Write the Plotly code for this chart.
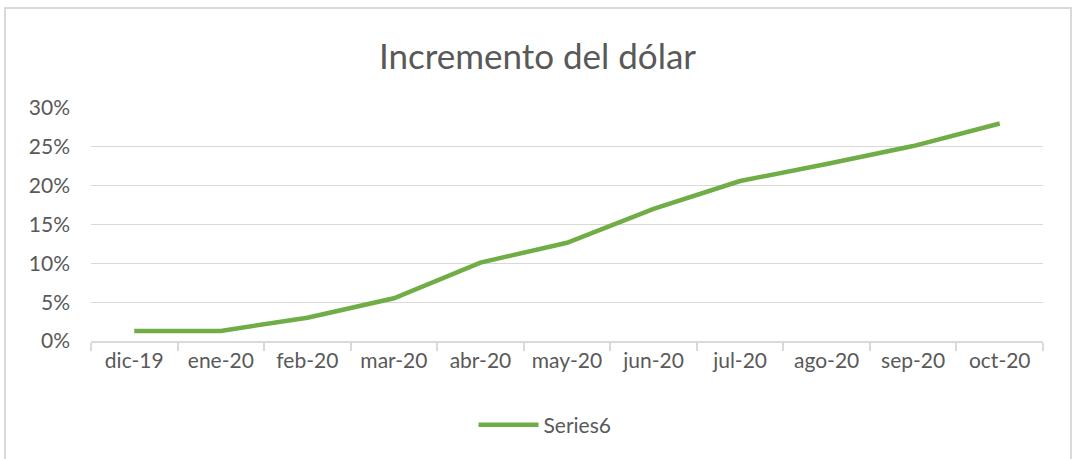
import plotly.graph_objects as go

meses = ["dic-19", "ene-20", "feb-20", "mar-20", "abr-20", "may-20",
         "jun-20", "jul-20", "ago-20", "sep-20", "oct-20"]
incremento = [0.013, 0.013, 0.030, 0.055, 0.101, 0.1265,
              0.170, 0.206, 0.228, 0.251, 0.280]
y_ticks = [0, 0.05, 0.10, 0.15, 0.20, 0.25, 0.30]
y_tick_labels = ["0%", "5%", "10%", "15%", "20%", "25%", "30%"]

W, H = 1075, 459
L, R, T, B = 91, 32, 108, 118
pw, ph = W - L - R, H - T - B

gris = "#595959"
fuente = "Lato, 'Open Sans', sans-serif"

fig = go.Figure()

fig.add_trace(go.Scatter(
    x=meses, y=incremento,
    mode="lines",
    name="Series6",
    line=dict(color="#70AD47", width=4.5),
))

fig.update_layout(
    width=W, height=H,
    margin=dict(l=L, r=R, t=T, b=B),
    paper_bgcolor="white",
    plot_bgcolor="white",
    title=dict(
        text="Incremento del dólar",
        x=0.5, xanchor="center",
        y=1 - 57 / H, yanchor="middle",
        font=dict(family=fuente, size=35, color=gris),
    ),
    font=dict(family=fuente, color=gris, size=20),
    showlegend=True,
    legend=dict(
        orientation="h",
        x=0.5 - 22 / pw, xanchor="center",
        y=-(425 - 341) / ph, yanchor="middle",
        font=dict(size=21, color=gris),
        itemwidth=60,
    ),
    xaxis=dict(
        type="category",
        showgrid=False,
        showline=True, linecolor="#d9d9d9", linewidth=1.5,
        ticks="outside", tickson="boundaries",
        ticklen=8, tickcolor="#d9d9d9", tickwidth=1.5,
        tickfont=dict(size=21, color=gris),
        range=[-0.5, len(meses) - 0.5],
    ),
    yaxis=dict(
        range=[0, 0.30],
        tickvals=y_ticks,
        ticktext=y_tick_labels,
        showgrid=True, gridcolor="#d9d9d9", gridwidth=1.2,
        zeroline=False,
        showline=False,
        ticks="",
        ticklabelstandoff=20,
        tickfont=dict(size=21, color=gris),
    ),
    shapes=[dict(
        type="rect", xref="paper", yref="paper",
        x0=(5 - L) / pw, x1=(1071 - L) / pw,
        y0=-(H + 4 - (H - B)) / ph, y1=((H - B) - 8) / ph,
        line=dict(color="#d9d9d9", width=2),
        fillcolor="rgba(0,0,0,0)",
        layer="below",
    )],
)

fig.write_html("out.html", config={"displayModeBar": False},
               post_script="document.body.style.margin='0';")
